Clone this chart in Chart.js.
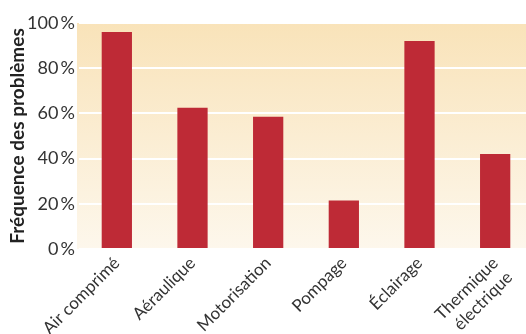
<!DOCTYPE html>
<html>
<head>
<meta charset="utf-8">
<script src="https://cdn.jsdelivr.net/npm/chart.js@4"></script>
<style>
  html, body { margin: 0; padding: 0; background: #fff; overflow: hidden; }
  #wrap { width: 534px; height: 334px; }
</style>
</head>
<body>
<div id="wrap"><canvas id="myChart" width="534" height="334"></canvas></div>
<script>
// categories et valeurs (en %)
const categories = ['Air comprimé', 'Aéraulique', 'Motorisation', 'Pompage', 'Éclairage', ['Thermique', 'électrique']];
const frequences = [96, 62.5, 58.5, 21.5, 92, 42];
const ticksY = [0, 20, 40, 60, 80, 100];

// fond dégradé de la zone du graphique
const fondDegrade = {
    id: 'fondDegrade',
    beforeDraw(chart) {
        const { ctx, chartArea } = chart;
        const g = ctx.createLinearGradient(0, chartArea.top, 0, chartArea.bottom);
        g.addColorStop(0, '#f9e3b9');
        g.addColorStop(1, '#fdf7ec');
        ctx.save();
        ctx.fillStyle = g;
        ctx.fillRect(chartArea.left - 2, chartArea.top, chartArea.right - chartArea.left + 2, chartArea.bottom - chartArea.top);
        ctx.restore();
    }
};

const data = {
    labels: categories,
    datasets: [{
        label: 'Fréquence',
        data: frequences,
        backgroundColor: '#be2a36',
        barPercentage: 0.4,
        categoryPercentage: 1
    }]
};

const options = {
    responsive: false,
    animation: false,
    layout: { padding: { top: 23, right: 1, left: 0, bottom: 0 } },
    plugins: {
        legend: { display: false },
        tooltip: { enabled: false }
    },
    scales: {
        x: {
            grid: { display: false, drawTicks: false },
            border: { display: false },
            ticks: {
                minRotation: 45,
                maxRotation: 45,
                padding: 4,
                color: '#333',
                font: { family: 'Lato', size: 17 }
            },
            afterFit: (s) => { s.height = 85; }
        },
        y: {
            min: 0,
            max: 100,
            grid: { color: '#ffffff', lineWidth: 2, drawTicks: false },
            border: { display: false },
            ticks: {
                stepSize: 10,
                padding: 4,
                color: '#333',
                font: { family: 'Lato', size: 18 },
                callback: (v) => ticksY.includes(v) ? v + '\u2009%' : ''
            },
            title: {
                display: true,
                text: 'Fréquence des problèmes',
                color: '#222',
                padding: { top: 6, bottom: 0 },
                font: { family: 'Lato', size: 19, weight: 'bold' }
            },
            afterFit: (s) => { s.width = 79; }
        }
    }
};

const config = {
    type: 'bar',
    data: data,
    options: options,
    plugins: [fondDegrade]
};

const myChart = new Chart(document.getElementById('myChart'), config);
</script>
</body>
</html>
